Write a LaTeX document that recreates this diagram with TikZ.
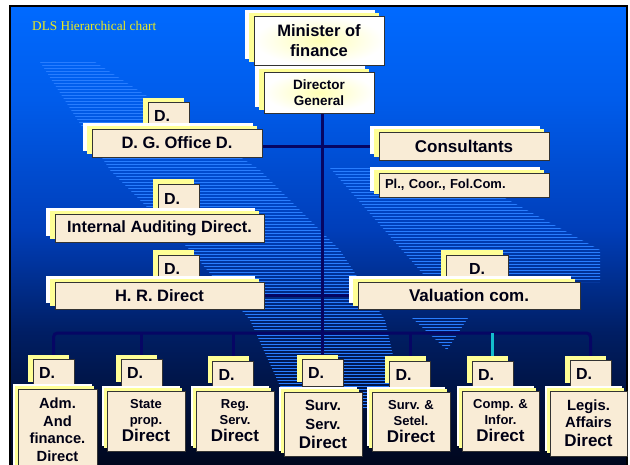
\documentclass[tikz,border=0pt]{standalone}
\usepackage{fontspec}
\setmainfont{Liberation Sans}
\newfontfamily\titlefont{Liberation Serif}
\usetikzlibrary{shadows,calc}

\definecolor{bgtop}{RGB}{0,106,255}
\definecolor{bghigh}{RGB}{0,92,235}
\definecolor{bgmid}{RGB}{0,62,185}
\definecolor{bgnavy}{RGB}{0,30,100}
\definecolor{bgbot}{RGB}{0,6,26}
\definecolor{boxfill}{RGB}{249,236,214}
\definecolor{shadowyel}{RGB}{255,255,150}
\definecolor{linknavy}{RGB}{6,6,100}
\definecolor{linkcyan}{RGB}{20,190,205}
\definecolor{titleyel}{RGB}{235,235,30}
\definecolor{stripeblue}{RGB}{40,125,255}

\pgfdeclareverticalshading{dlsbg}{100bp}{color(0bp)=(bgbot); color(25bp)=(bgbot); color(30bp)=(bgbot!70!bgnavy); color(40bp)=(bgnavy); color(51bp)=(bgmid); color(65bp)=(bghigh); color(75bp)=(bgtop); color(100bp)=(bgtop)}

\pgfdeclarelayer{back}
\pgfsetlayers{back,main}

\newcommand{\dirfont}{\fontsize{17}{20}\selectfont}

\tikzset{
  box/.style={draw=black!80, line width=0.8pt, fill=boxfill, inner sep=0pt, align=center, text=black!92!blue},
  bigbox/.style={box, general shadow={fill=white, shadow xshift=-9pt, shadow yshift=6pt},
    general shadow={fill=shadowyel, shadow xshift=-5pt, shadow yshift=3pt}},
  headbox/.style={bigbox, inner color=shadowyel!70, outer color=white},
  dbox/.style={box, general shadow={fill=shadowyel, shadow xshift=-5pt, shadow yshift=5pt},
    text width=29pt, inner xsep=6pt, align=left, minimum height=27pt, font=\fontsize{16}{18}\selectfont\bfseries},
  lowbox/.style={box, general shadow={fill=white, shadow xshift=-5pt, shadow yshift=5pt},
    general shadow={fill=shadowyel, shadow xshift=-3pt, shadow yshift=3pt},
    minimum width=78pt, minimum height=60pt, font=\fontsize{13}{16}\selectfont\bfseries},
  link/.style={draw=linknavy, line width=3pt},
  stripe/.style={draw=stripeblue, line width=0.9pt},
}

\begin{document}
\begin{tikzpicture}[x=1pt,y=1pt,yscale=-1,xscale=1]
\useasboundingbox (0,0) rectangle (630,464);
\clip (0,0) rectangle (630,464);

\begin{pgfonlayer}{back}
%Background
\fill[white] (0,0) rectangle (630,464);
\shade[shading=dlsbg, draw=black, line width=2pt] (10,6) rectangle (627,472);
%Stripes
\begin{scope}
\clip (40,62) -- (95,62) -- (260,170) -- (340,250) -- (385,320) -- (405,408) -- (290,408) -- (250,320) -- (190,250) -- (110,170) -- cycle;
\foreach \y in {62,65,...,410} \draw[stripe] (0,\y) -- (630,\y);
\end{scope}
\begin{scope}
\clip (330,168) -- (450,168) -- (600,250) -- (600,282) -- (430,282) -- cycle;
\foreach \y in {168,171,...,282} \draw[stripe] (0,\y) -- (630,\y);
\end{scope}
\begin{scope}
\clip (412,318) -- (468,318) -- (447,350) -- cycle;
\foreach \y in {318,321,...,350} \draw[stripe] (0,\y) -- (630,\y);
\end{scope}
\end{pgfonlayer}

% Text Node
\node[anchor=base west, inner sep=0pt, text=titleyel, font=\titlefont\fontsize{13.3}{15}\selectfont] (title) at (32,30) {DLS Hierarchical chart};

%Top of the chart
\node[headbox, minimum width=130pt, minimum height=49pt, font=\fontsize{16.5}{20}\selectfont\bfseries] (min) at (319,40.5) {Minister of\\finance};
\node[headbox, minimum width=110pt, minimum height=41pt, font=\fontsize{13.5}{15.5}\selectfont\bfseries] (dg) at (319,92.5) {Director\\General};

%Left column
\node[dbox] (dgod) at (168.5,116) {D.};
\node[bigbox, minimum width=170pt, minimum height=28pt, font=\fontsize{16.5}{20}\selectfont\bfseries] (dgo) at (177,143) {D. G. Office D.};
\node[dbox, minimum height=30pt] (iadd) at (178.5,199) {D.};
\node[bigbox, minimum width=209pt, minimum height=28pt, font=\fontsize{16.3}{20}\selectfont\bfseries] (iad) at (159.5,228) {Internal Auditing Direct.};
\node[dbox] (hrd) at (178.5,268.5) {D.};
\node[bigbox, minimum width=209pt, minimum height=27pt, font=\fontsize{16.5}{20}\selectfont\bfseries] (hr) at (159.5,295.5) {H. R. Direct};

%Right column
\node[bigbox, minimum width=170pt, minimum height=28pt, font=\fontsize{17}{20}\selectfont\bfseries] (cons) at (464,146) {Consultants};
\node[bigbox, text width=158pt, inner xsep=6pt, align=left, minimum height=24pt, font=\fontsize{13}{16}\selectfont\bfseries] (pl) at (464,185) {Pl., Coor., Fol.Com.};
\node[dbox, text width=62pt, inner xsep=0pt, align=center] (vald) at (477,268.5) {D.};
\node[bigbox, minimum width=222pt, minimum height=27pt, font=\fontsize{17}{20}\selectfont\bfseries] (val) at (469,295.5) {Valuation com.};

%Bottom row
\node[dbox] (d1) at (53.5,373) {D.};
\node[dbox] (d2) at (141.5,373) {D.};
\node[dbox] (d3) at (233,374.5) {D.};
\node[dbox] (d4) at (322.5,373) {D.};
\node[dbox] (d5) at (410,374.5) {D.};
\node[dbox] (d6) at (492.5,374.5) {D.};
\node[dbox] (d7) at (590.5,374) {D.};
\node[lowbox, minimum width=79pt, minimum height=81pt, font=\fontsize{14.7}{17.5}\selectfont\bfseries] (b1) at (57.5,429.5) {Adm.\\And\\finance.\\Direct};
\node[lowbox] (b2) at (146,421) {State\\prop.\\[1pt]\dirfont Direct};
\node[lowbox] (b3) at (235,421) {Reg.\\Serv.\\[1pt]\dirfont Direct};
\node[lowbox, minimum height=64pt, font=\fontsize{14.8}{19}\selectfont\bfseries] (b4) at (323,424) {Surv.\\Serv.\\\dirfont Direct};
\node[lowbox, minimum height=59pt] (b5) at (411,421.5) {Surv. \&\\Setel.\\[1pt]\dirfont Direct};
\node[lowbox, minimum width=77pt] (b6) at (500.5,421) {Comp. \&\\Infor.\\[1pt]\dirfont Direct};
\node[lowbox, minimum width=77pt, minimum height=65pt, font=\fontsize{14.8}{17}\selectfont\bfseries] (b7) at (588.5,423.5) {Legis.\\Affairs\\[2pt]\dirfont Direct};

\begin{pgfonlayer}{back}
\coordinate (bus) at (323,333);
%Straight Lines
\draw[link] (d4.north |- dg.south) -- (d4.north);
\draw[link] (dgo.east |- cons.west) -- (cons.west);
\draw[link] ($(pl.west)+(0,4)$) -- ($(pl.west)+(0,4)$ -| d4.north);
\draw[link] ($(iad.east)+(0,6)$) -- ($(iad.east)+(0,6)$ -| d4.north);
\draw[link] (hr.east) -- (val.west);
\draw[link, rounded corners=4pt] (d1.north) |- (bus) -| (d7.north);
\draw[link] (d2.north) -- (d2.north |- bus);
\draw[link] (d3.north) -- (d3.north |- bus);
\draw[link] (d5.north) -- (d5.north |- bus);
\draw[link, draw=linkcyan, line width=2.5pt] (d6.north) -- (d6.north |- bus);
\end{pgfonlayer}
\end{tikzpicture}
\end{document}
